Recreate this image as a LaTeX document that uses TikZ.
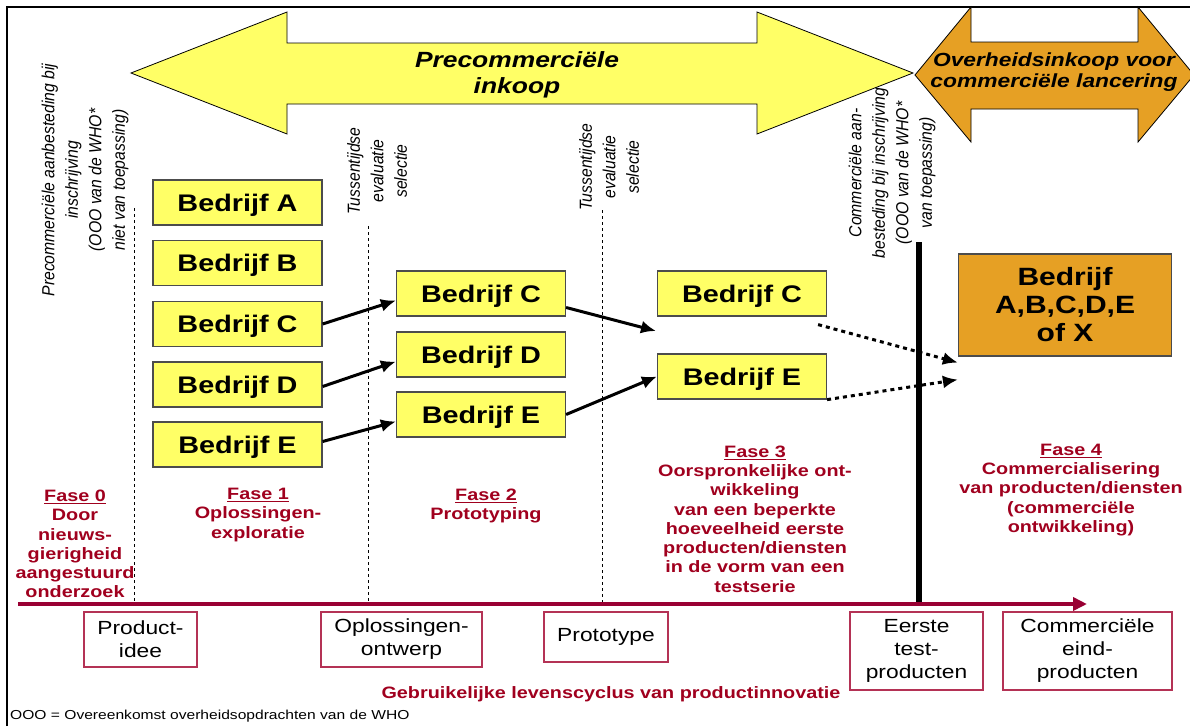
\documentclass[tikz,border=0pt]{standalone}
\usepackage{fontspec}
\setmainfont{Liberation Sans}[FakeStretch=1.2]
\newfontfamily\rotfont{Liberation Sans}[FakeStretch=0.9]
\usetikzlibrary{arrows.meta}

\definecolor{firmyellow}{HTML}{FFFF66}
\definecolor{buyorange}{HTML}{E6A024}
\definecolor{cyclered}{RGB}{153,0,51}
\definecolor{faseRed}{RGB}{160,0,30}
\definecolor{stageRed}{RGB}{180,50,85}

\newcommand{\fsz}[2]{\fontsize{#1}{#2}\selectfont}

\tikzset{
  firm/.style={draw=black!70, fill=firmyellow, line width=1.2pt, minimum width=169pt,
    minimum height=45pt, inner sep=0pt, text depth=0pt, font=\bfseries\fsz{24}{28}},
  stagebox/.style={draw=stageRed, line width=1.2pt, align=center, inner sep=0pt, font=\fsz{19}{23}},
  fase/.style={text=faseRed, align=center, font=\bfseries\fsz{16.5}{19.3}},
  vlabel/.style={rotate=90, align=center, font=\rotfont\itshape\fsz{17.5}{23.5}},
  flow/.style={line width=3pt, -{Latex[length=15pt,width=13pt]}},
  maybe/.style={flow, dash pattern=on 4pt off 4pt},
  gate/.style={dash pattern=on 3pt off 3pt, line width=1pt},
}

\begin{document}
\begin{tikzpicture}[x=1pt,y=-1pt]
    \useasboundingbox (0,0) rectangle (1190,726);
    \clip (0,0) rectangle (1190,726);

    \def\colA{237.5}
    \def\colB{481}
    \def\colC{742}
    \def\axis{604}

    % frame
    \draw[line width=2.5pt] (7,726) -- (7,7) -- (1190,7);

    % big arrows
    \draw[fill=firmyellow, line width=0.8pt] (131,73) -- (287,12) -- (287,43) -- (757,43) -- (757,12)
        -- (913,73) -- (757,134) -- (757,104) -- (287,104) -- (287,134) -- cycle;
    \node[font=\bfseries\itshape\fsz{22}{26}, align=center] (precom) at (517,75) {Precommerciële\\inkoop};

    \draw[fill=buyorange, line width=0.8pt] (915,75) -- (971,7) -- (971,42) -- (1138,42) -- (1138,7)
        -- (1194,75) -- (1138,142) -- (1138,109) -- (971,109) -- (971,142) -- cycle;
    \node[font=\bfseries\itshape\fsz{19}{21}, align=center] (overheid) at (1054,72) {Overheidsinkoop voor\\commerciële lancering};

    % vertical labels
    \node[vlabel] (lblpre) at (85,180) {Precommerciële aanbesteding bij\\inschrijving\\(OOO van de WHO*\\niet van toepassing)};
    \node[vlabel] (lbltus1) at (377,171) {Tussentijdse\\evaluatie\\selectie};
    \node[vlabel] (lbltus2) at (609,167) {Tussentijdse\\evaluatie\\selectie};
    \node[vlabel] (lblcom) at (892,173) {Commerciële aan-\\besteding bij inschrijving\\(OOO van de WHO*\\van toepassing)};

    % gates
    \draw[gate] (134,208) -- (134,\axis);
    \draw[gate] (368,226) -- (368,\axis);
    \draw[gate] (602,210) -- (602,\axis);
    \draw[line width=6pt] (919,242) -- (919,\axis);

    % firms
    \node[firm] (c1A) at (\colA,202.5) {Bedrijf A};
    \node[firm] (c1B) at (\colA,263) {Bedrijf B};
    \node[firm] (c1C) at (\colA,324) {Bedrijf C};
    \node[firm] (c1D) at (\colA,384.5) {Bedrijf D};
    \node[firm] (c1E) at (\colA,444.5) {Bedrijf E};

    \node[firm] (c2C) at (\colB,293.5) {Bedrijf C};
    \node[firm] (c2D) at (\colB,354.5) {Bedrijf D};
    \node[firm] (c2E) at (\colB,414.5) {Bedrijf E};

    \node[firm] (c3C) at (\colC,293.5) {Bedrijf C};
    \node[firm] (c3E) at (\colC,376.5) {Bedrijf E};

    \node[firm, fill=buyorange, minimum width=213pt, minimum height=102pt, align=center,
        text depth=, font=\bfseries\fsz{25}{28}] (winner) at (1065,305) {Bedrijf\\A,B,C,D,E\\of X};

    \coordinate (dropped) at (656,331);

    \draw[flow] (c1C.east) -- ([yshift=-7pt]c2C.west);
    \draw[flow] ([yshift=-2pt]c1D.east) -- ([yshift=-7pt]c2D.west);
    \draw[flow] ([yshift=3pt]c1E.east) -- ([yshift=-7pt]c2E.west);
    \draw[flow] ([yshift=-14pt]c2C.east) -- (dropped);
    \draw[flow] (c2E.east) -- (c3E.west);
    \draw[maybe] ([xshift=-9pt,yshift=-8pt]c3C.south east) -- ([yshift=-6pt]winner.south west);
    \draw[maybe] (c3E.south east) -- ([yshift=-23pt]winner.south west);

    % phases
    \node[fase] (fase0) at (75,544) {\underline{Fase 0}\\Door\\nieuws-\\gierigheid\\aangestuurd\\onderzoek};
    \node[fase] (fase1) at (258,515) {\underline{Fase 1}\\Oplossingen-\\exploratie};
    \node[fase] (fase2) at (486,506) {\underline{Fase 2}\\Prototyping};
    \node[fase] (fase3) at (755,519) {\underline{Fase 3}\\Oorspronkelijke ont-\\wikkeling\\van een beperkte\\hoeveelheid eerste\\producten/diensten\\in de vorm van een\\testserie};
    \node[fase] (fase4) at (1071,490) {\underline{Fase 4}\\Commercialisering\\van producten/diensten\\(commerciële\\ontwikkeling)};

    % life cycle axis
    \draw[cyclered, line width=3.5pt, -{Triangle[length=14pt,width=13pt]}] (18,\axis) -- (1087,\axis);

    \node[stagebox, minimum width=113pt, minimum height=55pt] (idee) at (140.5,639.5) {Product-\\idee};
    \node[stagebox, minimum width=161pt, minimum height=55pt] (ontwerp) at (401.5,639.5) {Oplossingen-\\ontwerp};
    \node[stagebox, minimum width=124pt, minimum height=50pt] (proto) at (606,637) {Prototype};
    \node[stagebox, minimum width=133pt, minimum height=78pt] (testprod) at (916.5,651) {Eerste\\test-\\producten};
    \node[stagebox, minimum width=169pt, minimum height=78pt] (eindprod) at (1087.5,651) {Commerciële\\eind-\\producten};

    \node[text=faseRed, font=\bfseries\fsz{16.5}{19}] (cyclus) at (611,694) {Gebruikelijke levenscyclus van productinnovatie};
    \node[anchor=west, inner sep=0pt, font=\fsz{13}{15}] (ooo) at (10,716) {OOO = Overeenkomst overheidsopdrachten van de WHO};
\end{tikzpicture}
\end{document}
